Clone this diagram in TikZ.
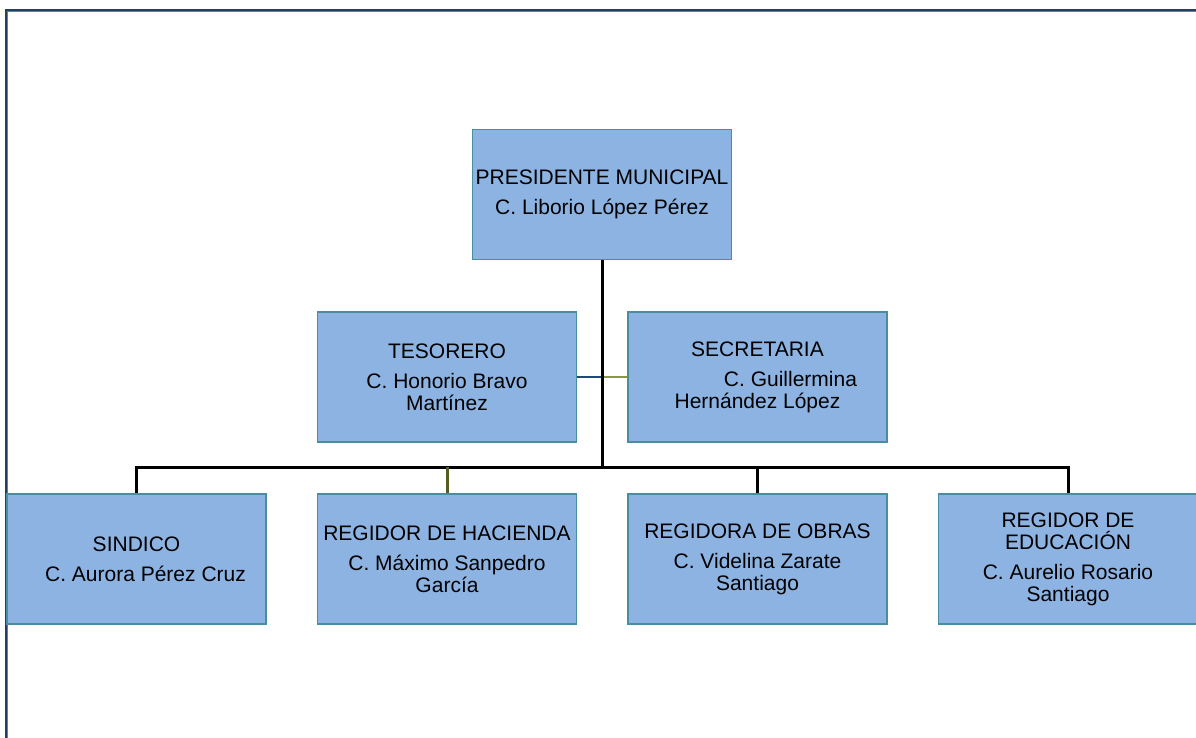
\documentclass[tikz,border=0pt]{standalone}
\usepackage{fontspec}
\setmainfont{Liberation Sans}
\usepackage{tikz}
\usepackage{xcolor}
\definecolor{boxfill}{HTML}{8DB3E2}
\definecolor{boxline}{HTML}{4A8CA0}
\definecolor{frameout}{HTML}{243F60}
\definecolor{framein}{HTML}{4F81BD}
\definecolor{linkblue}{HTML}{1F497D}
\definecolor{linkolive}{HTML}{8A9A3A}

\begin{document}
\begin{tikzpicture}[x=1pt,y=-1pt,
    cargo/.style={draw=boxline,line width=1.2pt,fill=boxfill,minimum width=259pt,
      minimum height=130pt,inner sep=1pt,align=center,
      font=\fontsize{21}{22}\selectfont},
    conn/.style={line width=3pt,black},
    thin/.style={line width=1.2pt}]
\useasboundingbox (0,0) rectangle (1196,738);
% outline
\draw[frameout,line width=2pt] (6,738) -- (6,10) -- (1196,10);
\draw[framein,line width=0.8pt] (7.5,738) -- (7.5,11.5) -- (1196,11.5);
% boxes
\node[cargo] (pres) at (602,194.5) {PRESIDENTE MUNICIPAL\\[8pt]C. Liborio López Pérez};
\node[cargo] (tes) at (447,377) {TESORERO\\[8pt]C. Honorio Bravo\\Martínez};
\node[cargo] (sec) at (757.5,377) {SECRETARIA\\[8pt]\hspace*{66pt}C. Guillermina\\Hernández López};
\node[cargo] (sind) at (136.5,559) {SINDICO\\[8pt]\hspace*{18pt}C. Aurora Pérez Cruz};
\node[cargo] (hac) at (447,559) {REGIDOR DE HACIENDA\\[8pt]C. Máximo Sanpedro\\García};
\node[cargo] (obr) at (757.5,559) {REGIDORA DE OBRAS\\[8pt]C. Videlina Zarate\\Santiago};
\node[cargo] (edu) at (1068,559) {REGIDOR DE\\EDUCACIÓN\\[8pt]C. Aurelio Rosario\\Santiago};
% lines
\coordinate (bus) at (602,467);
\draw[thin,linkblue] (tes.east) -- (tes.east -| bus);
\draw[thin,linkolive] (tes.east -| bus) -- (sec.west);
\draw[conn] (pres.south) -- (bus);
\draw[conn] (sind.north) |- (bus);
\draw[conn] (edu.north) |- (bus);
\draw[conn,linkolive!60!black] (hac.north) -- (hac.north |- bus);
\draw[conn] (obr.north) -- (obr.north |- bus);
\end{tikzpicture}
\end{document}
